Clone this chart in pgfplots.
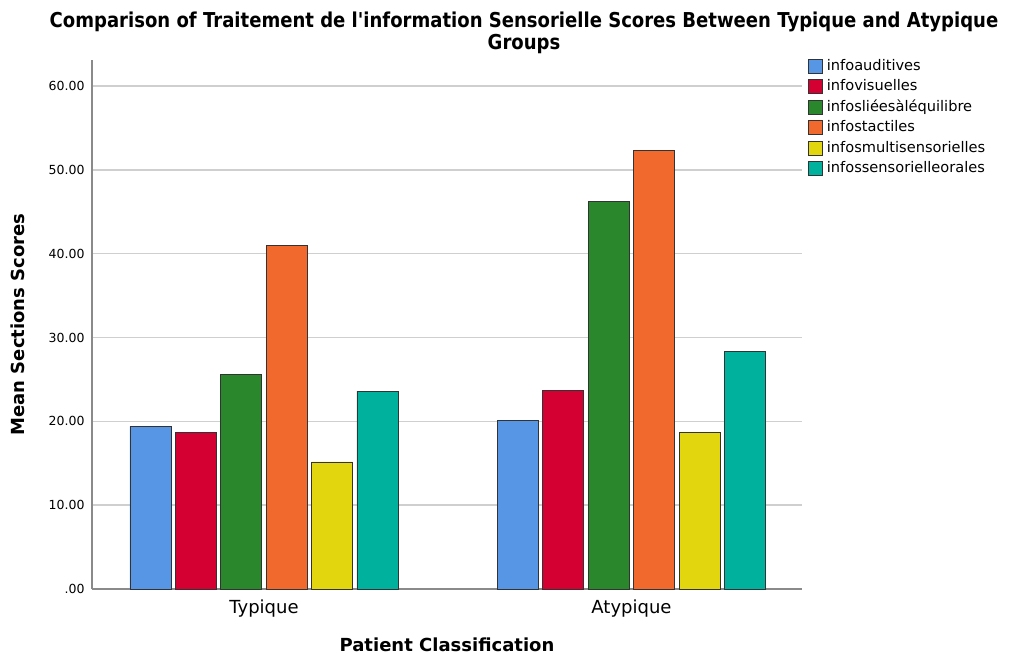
\documentclass[border=0pt]{standalone}
\usepackage{fontspec}
\setmainfont{DejaVu Sans}
\newfontfamily\titlefont{DejaVu Sans}[FakeStretch=0.88]
\usepackage{pgfplots}
\pgfplotsset{compat=1.18}

\definecolor{cblue}{HTML}{5796E4}
\definecolor{cred}{HTML}{D50032}
\definecolor{cgreen}{HTML}{2A872B}
\definecolor{corange}{HTML}{F1692C}
\definecolor{cyellow}{HTML}{E2D70F}
\definecolor{cteal}{HTML}{00B29E}
\definecolor{gridgray}{HTML}{CFCFCF}
\definecolor{axgray}{HTML}{8A8A8A}

\begin{document}
\begin{tikzpicture}
\path[use as bounding box] (0pt,0pt) rectangle (1022pt,657pt);
\node[font=\titlefont\bfseries\fontsize{20.5}{22}\selectfont, align=center] at (524pt,624pt)
  {Comparison of Traitement de l'information Sensorielle Scores Between Typique and Atypique\\Groups};
\begin{axis}[
  at={(92pt,68pt)}, anchor=south west,
  scale only axis, width=710pt, height=529pt,
  ybar=4.4pt, bar width=41pt,
  xmin=-0.468, xmax=1.464,
  ymin=0, ymax=63.1,
  xtick={0,1}, xticklabels={Typique,Atypique},
  ytick={0,10,20,30,40,50,60},
  yticklabels={.00,10.00,20.00,30.00,40.00,50.00,60.00},
  major tick length=0pt,
  axis x line*=bottom, axis y line*=left,
  axis line style={-, draw=axgray, line width=1.2pt},
  ymajorgrids, grid style={gridgray, line width=1.5pt},
  xticklabel style={font=\fontsize{18}{20}\selectfont, anchor=center, yshift=-20pt},
  yticklabel style={font=\fontsize{12.5}{14}\selectfont, anchor=east, xshift=-4pt},
  xlabel={Patient Classification},
  ylabel={Mean Sections Scores},
  xlabel style={font=\bfseries\fontsize{18}{20}\selectfont, at={(rel axis cs:0.5,0)}, anchor=center, yshift=-56pt},
  ylabel style={font=\bfseries\fontsize{18}{20}\selectfont, at={(rel axis cs:-0.104,0.5)}, anchor=center},
  legend cell align=left,
  legend image code/.code={\draw[#1, line width=0.8pt] (0pt,-7pt) rectangle (14pt,7pt); \path (18pt,0pt);},
  legend style={draw=none, fill=none, at={(rel axis cs:1.004,1.006)}, anchor=north west,
    font=\fontsize{14.6}{16}\selectfont, row sep=5.6pt,
    nodes={inner sep=0pt, text height=11pt, text depth=3pt}},
  every axis plot/.append style={draw=black!80, line width=0.9pt},
]
\addplot[fill=cblue] coordinates {(0,19.4) (1,20.15)};
\addplot[fill=cred] coordinates {(0,18.7) (1,23.7)};
\addplot[fill=cgreen] coordinates {(0,25.6) (1,46.2)};
\addplot[fill=corange] coordinates {(0,41.0) (1,52.3)};
\addplot[fill=cyellow] coordinates {(0,15.15) (1,18.7)};
\addplot[fill=cteal] coordinates {(0,23.6) (1,28.3)};
\legend{infoauditives,infovisuelles,infosliéesàléquilibre,infostactiles,infosmultisensorielles,infossensorielleorales}
\end{axis}
\end{tikzpicture}
\end{document}
